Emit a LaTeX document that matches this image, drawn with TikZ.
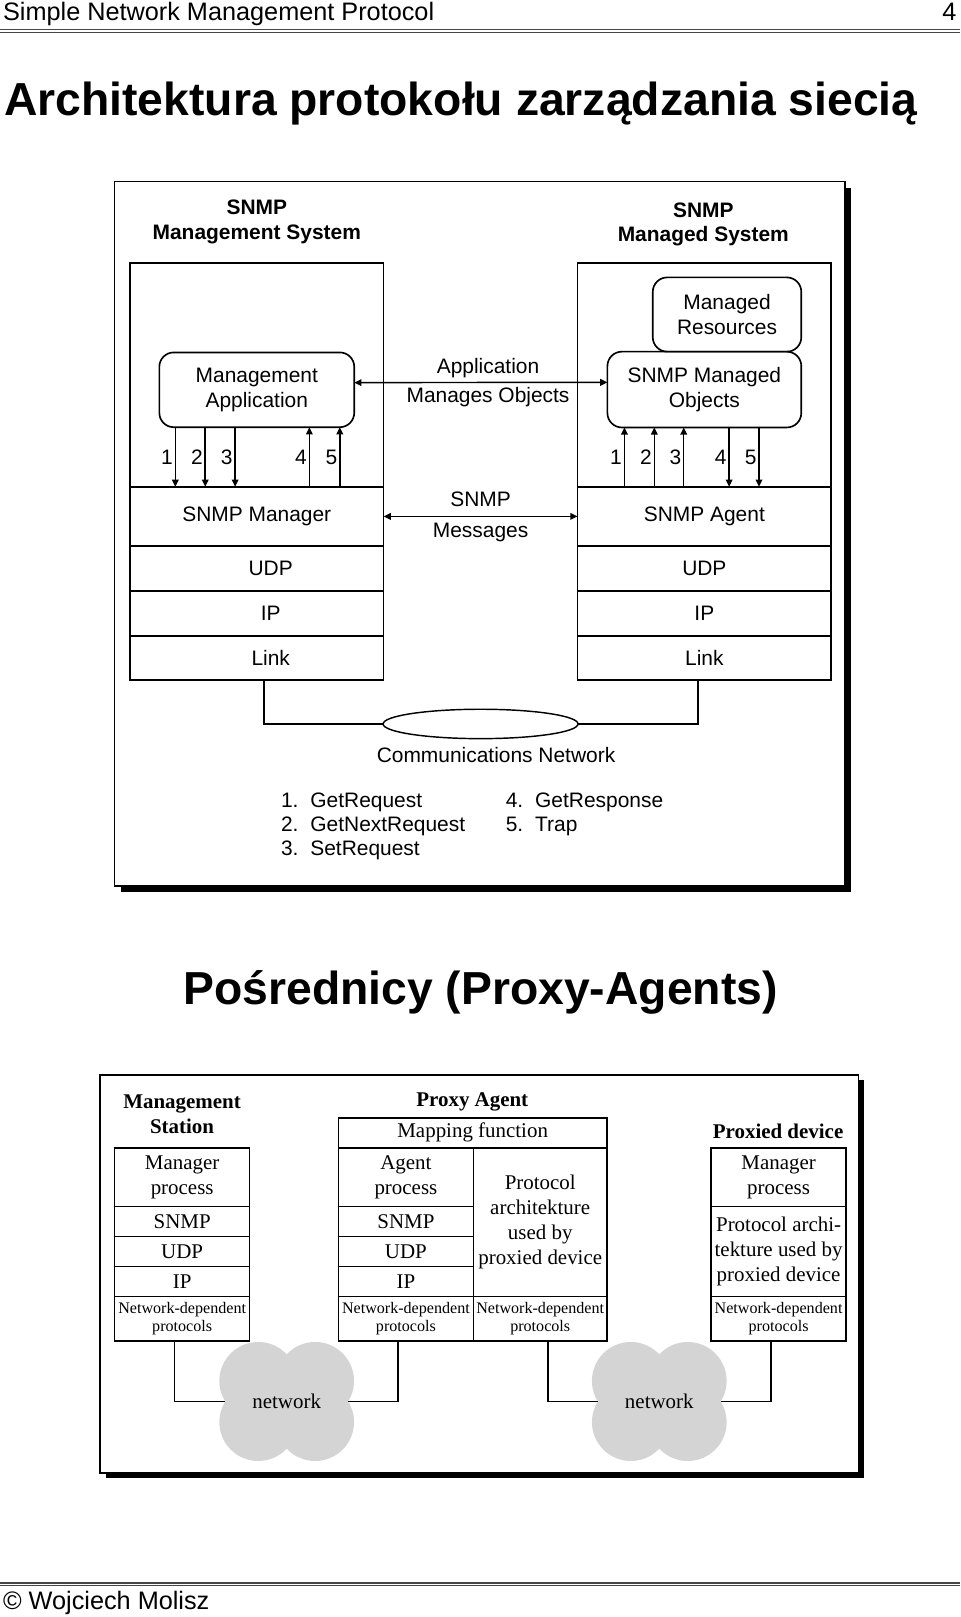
\documentclass[tikz,border=0pt]{standalone}
\usepackage{fontspec}
\setmainfont{Liberation Serif}
\setsansfont{Liberation Sans}
\usetikzlibrary{positioning,arrows.meta,shapes.geometric,calc}
\definecolor{ruleGray}{RGB}{70,70,70}
\definecolor{cloudGray}{RGB}{212,212,212}
\newcommand{\snmpfont}{\sffamily\fontsize{20.3pt}{24pt}\selectfont}
\newcommand{\proxyfont}{\rmfamily\fontsize{20.3pt}{24.4pt}\selectfont}
\newcommand{\ndfont}{\rmfamily\fontsize{15.6pt}{18pt}\selectfont}
\newcommand{\bigtitle}{\sffamily\bfseries\fontsize{44.9pt}{50pt}\selectfont}
\newcommand{\pagefont}{\sffamily\fontsize{24.5pt}{28pt}\selectfont}

\begin{document}
\begin{tikzpicture}[x=1pt,y=-1pt,
    every node/.style={inner sep=0pt,outer sep=0pt},
    layer/.style={draw,line width=1.6pt,minimum width=246pt,font=\snmpfont},
    app/.style={draw,line width=1.6pt,rounded corners=14pt,align=center,font=\snmpfont},
    sig/.style={line width=1.4pt,-{Triangle[length=7pt,width=6.5pt]}},
    sigboth/.style={line width=1.4pt,{Triangle[length=7pt,width=6.5pt]}-{Triangle[length=7pt,width=6.5pt]}},
    cell/.style={draw,line width=1.5pt,minimum width=131pt,align=center,font=\proxyfont},
    ndcell/.style={cell,minimum height=43.5pt,font=\ndfont},
    wire/.style={line width=1.4pt},
    frame/.style={draw,line width=1.8pt,fill=white}]
  \useasboundingbox (0,0) rectangle (931,1568);

  % page head
  \node[anchor=base west,font=\pagefont] (head) at (3,20) {Simple Network Management Protocol};
  \node[anchor=base east,font=\pagefont] (pageNo) at (927.5,20) {4};
  \draw[ruleGray,line width=1.6pt] (0,28.6) -- (931,28.6);
  \draw[ruleGray,line width=1pt] (0,31.2) -- (931,31.2);
  \node[anchor=base west,font=\bigtitle] (title) at (4,112) {Architektura protokołu zarządzania siecią};

  % SNMP architecture
  \fill (117,182) rectangle (825,865);
  \draw[frame] (111,176) rectangle (819,859);
  \node[align=center,font=\snmpfont\bfseries] (mgsHead) at (249,215.5) {SNMP\\Management System};
  \node[align=center,font=\snmpfont\bfseries] (agsHead) at (682,217.5) {SNMP\\Managed System};

  \node[layer,minimum height=217pt] (mgsTop) at (249,363.5) {};
  \node[layer,minimum height=57.5pt,below=0pt of mgsTop] (mgr) {SNMP Manager};
  \node[layer,minimum height=43.5pt,below=0pt of mgr] (udpL) {\hspace*{27pt}UDP};
  \node[layer,minimum height=43.5pt,below=0pt of udpL] (ipL) {\hspace*{27pt}IP};
  \node[layer,minimum height=43pt,below=0pt of ipL] (linkL) {\hspace*{27pt}Link};

  \node[layer,minimum height=217pt] (agsTop) at (683,363.5) {};
  \node[layer,minimum height=57.5pt,below=0pt of agsTop] (agt) {SNMP Agent};
  \node[layer,minimum height=43.5pt,below=0pt of agt] (udpR) {UDP};
  \node[layer,minimum height=43.5pt,below=0pt of udpR] (ipR) {IP};
  \node[layer,minimum height=43pt,below=0pt of ipR] (linkR) {Link};

  \node[app,minimum width=189pt,minimum height=72.5pt] (mgmtApp) at (249,378) {Management\\Application};
  \node[app,minimum width=144pt,minimum height=72pt] (mres) at (705,305) {Managed\\Resources};
  \node[app,minimum width=188pt,minimum height=73.5pt,anchor=north east] (smo) at (mres.south east) {SNMP Managed\\Objects};

  \draw[sigboth] ([yshift=7pt]mgmtApp.east) -- node[xshift=7pt,align=center,font=\snmpfont\fontsize{20.3pt}{28.5pt}\selectfont]{Application\\Manages Objects} ([yshift=7pt]smo.west);
  \draw[sigboth] (mgr.east) -- node[align=center,font=\snmpfont\fontsize{20.3pt}{30pt}\selectfont]{SNMP\\Messages} (agt.west);

  \foreach \x/\n in {170/1,199/2,228/3}
    \draw[sig] (mgmtApp.south -| \x,0) -- node[left=2.5pt,font=\snmpfont]{\n} (mgr.north -| \x,0);
  \foreach \x/\n in {300/4,329.5/5}
    \draw[sig] (mgr.north -| \x,0) -- node[left=2.5pt,font=\snmpfont]{\n} (mgmtApp.south -| \x,0);
  \foreach \x/\n in {605.5/1,634.5/2,663/3}
    \draw[sig] (agt.north -| \x,0) -- node[left=2.5pt,font=\snmpfont]{\n} (smo.south -| \x,0);
  \foreach \x/\n in {707/4,736/5}
    \draw[sig] (smo.south -| \x,0) -- node[left=2.5pt,font=\snmpfont]{\n} (agt.north -| \x,0);

  \node[draw,ellipse,line width=1.4pt,minimum width=189pt,minimum height=28.5pt] (commNet) at (466,702) {};
  \draw[wire] ([xshift=7pt]linkL.south) |- (commNet.west);
  \draw[wire] ([xshift=-6pt]linkR.south) |- (commNet.east);
  \node[font=\snmpfont] (commLabel) at (481,732) {Communications Network};

  \foreach \t [count=\i] in {GetRequest,GetNextRequest,SetRequest}
    \node[anchor=base west,font=\snmpfont] (req\i) at (272.5,{783.2+23*(\i-1)}) {\makebox[28.5pt][l]{\i.}\t};
  \foreach \t [count=\i from 4] in {GetResponse,Trap}
    \node[anchor=base west,font=\snmpfont] (req\i) at (490.5,{783.2+23*(\i-4)}) {\makebox[28.5pt][l]{\i.}\t};

  % proxy agents
  \node[anchor=base,font=\bigtitle] (proxyTitle) at (466,974) {Pośrednicy (Proxy-Agents)};
  \fill (102.5,1047.5) rectangle (838,1433.5);
  \draw[frame] (97,1042) rectangle (832.5,1428);

  \node[align=center,font=\proxyfont\bfseries] (msHead) at (176.5,1080.5) {Management\\Station};
  \node[font=\proxyfont\bfseries] (paHead) at (458,1068.4) {Proxy Agent};
  \node[font=\proxyfont\bfseries] (pdHead) at (754.5,1097.5) {Proxied device};

  \node[cell,minimum height=57pt] (msMgr) at (176.65,1141.5) {Manager\\process};
  \node[cell,minimum height=29pt,below=0pt of msMgr] (msSnmp) {SNMP};
  \node[cell,minimum height=29pt,below=0pt of msSnmp] (msUdp) {UDP};
  \node[cell,minimum height=29pt,below=0pt of msUdp] (msIp) {IP};
  \node[ndcell,below=0pt of msIp] (msNd) {Network-dependent\\protocols};

  \node[cell,minimum width=260.5pt,minimum height=29pt] (mapFn) at (458.35,1098.5) {Mapping function};
  \node[cell,minimum height=57pt,anchor=north west] (paAgent) at (mapFn.south west) {Agent\\process};
  \node[cell,minimum height=29pt,below=0pt of paAgent] (paSnmp) {SNMP};
  \node[cell,minimum height=29pt,below=0pt of paSnmp] (paUdp) {UDP};
  \node[cell,minimum height=29pt,below=0pt of paUdp] (paIp) {IP};
  \node[ndcell,below=0pt of paIp] (paNd) {Network-dependent\\protocols};
  \node[cell,minimum width=129.5pt,minimum height=144pt,anchor=north east] (paProto) at (mapFn.south east) {Protocol\\architekture\\used by\\proxied device};
  \node[ndcell,minimum width=129.5pt,below=0pt of paProto] (paProtoNd) {Network-dependent\\protocols};

  \node[cell,minimum height=57pt] (pdMgr) at (755,1141.5) {Manager\\process};
  \node[cell,minimum height=87pt,below=0pt of pdMgr] (pdProto) {Protocol archi-\\tekture used by\\proxied device};
  \node[ndcell,below=0pt of pdProto] (pdNd) {Network-dependent\\protocols};

  % clouds
  \foreach \cx in {278,639.3} {
    \foreach \dx/\dy in {-27.6/-20,27.6/-20,-27.6/20,27.6/20}
      \fill[cloudGray] (\cx+\dx,1359+\dy) circle (37.7pt);
  }
  \node[font=\proxyfont,minimum width=119pt] (netL) at (278,1359) {network};
  \node[font=\proxyfont,minimum width=119pt] (netR) at (639.3,1359) {network};
  \draw[wire] ([xshift=-7.5pt]msNd.south) |- (netL.west);
  \draw[wire] ([xshift=-7.5pt]paNd.south) |- (netL.east);
  \draw[wire] ([xshift=7.5pt]paProtoNd.south) |- (netR.west);
  \draw[wire] ([xshift=-7.5pt]pdNd.south) |- (netR.east);

  % page foot
  \draw[ruleGray,line width=1.6pt] (0,1535.2) -- (931,1535.2);
  \draw[ruleGray,line width=1pt] (0,1537.8) -- (931,1537.8);
  \node[anchor=base west,font=\pagefont] (foot) at (3,1561) {© Wojciech Molisz};
\end{tikzpicture}
\end{document}
